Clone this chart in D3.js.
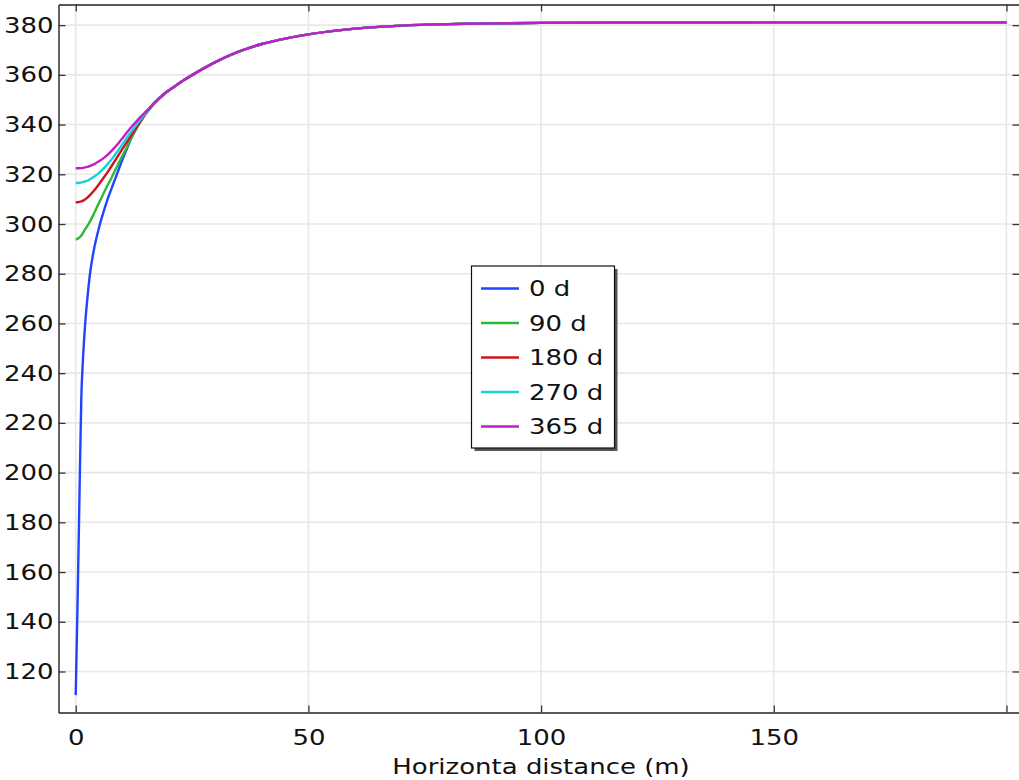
<!DOCTYPE html>
<html lang="en">
<head>
    <meta charset="UTF-8">
    <title>Horizontal distance profile</title>
    <script src="https://d3js.org/d3.v7.min.js"></script>
    <style>
        body {
            margin: 0;
            background: #fff;
        }
        svg text {
            font-family: "DejaVu Sans", sans-serif;
            font-size: 22px;
            fill: #111;
        }
    </style>
</head>
<body>
    <div id="chart"></div>

    <script>
        // distance along the profile (m)
        const distance = [0, 0.4, 0.8, 1.2, 1.6, 2, 2.5, 3, 4, 5, 6, 7, 8, 9, 10, 11, 12, 13, 14,
            15, 16, 17, 19, 21, 23, 25, 27.5, 30, 35, 40, 45, 50, 55, 60, 70, 80, 90, 100, 120, 150, 200];

        // shared tail once all curves have merged (x >= 21)
        const tail = [355, 357.6, 359.9, 362.6, 365.1, 369.3, 372.4, 374.6, 376.3, 377.6, 378.6,
            379.8, 380.4, 380.7, 380.9, 381.05, 381.1, 381.1];

        const day0 = [110.5, 148, 190, 230, 247, 259, 270, 279, 290.5, 298.5, 305, 310.8, 315.8,
            320.8, 325.7, 330.3, 334.8, 338.4, 341.5, 344.2, 346.6, 348.7, 352.2].concat(tail);
        const day90 = [293.8, 294, 294.6, 295.4, 296.5, 297.8, 299.2, 300.8, 304.5, 308.5, 312.4,
            316.1, 319.8, 323.6, 327.3, 330.9, 334.8, 338.4, 341.5, 344.2, 346.6, 348.7, 352.2].concat(tail);
        const day180 = [308.7, 308.75, 308.9, 309.1, 309.4, 309.9, 310.6, 311.5, 313.6, 316, 318.6,
            321.3, 324.2, 327.1, 330.1, 333, 335.9, 338.7, 341.6, 344.4, 346.8, 348.9, 352.3].concat(tail);
        const day270 = [316.5, 316.5, 316.6, 316.7, 316.9, 317.1, 317.4, 317.9, 319.1, 320.6, 322.4,
            324.4, 326.7, 329.3, 332, 334.7, 337.3, 339.8, 342.2, 344.6, 346.9, 349, 352.4].concat(tail);
        const day365 = [322.4, 322.4, 322.45, 322.5, 322.6, 322.75, 323, 323.3, 324.1, 325.2, 326.5,
            328.1, 330, 332.1, 334.4, 336.8, 339.1, 341.2, 343.2, 345.1, 347, 348.9, 352.4].concat(tail);

        const seriesNames = ["0 d", "90 d", "180 d", "270 d", "365 d"];
        const seriesValues = [day0, day90, day180, day270, day365];
        const seriesColors = ["#2144ff", "#2cb83a", "#d0141a", "#17d0d8", "#c01ec8"];

        const xTicks = [0, 50, 100, 150, 200];
        const xLabelled = [0, 50, 100, 150];
        const yTicks = [120, 140, 160, 180, 200, 220, 240, 260, 280, 300, 320, 340, 360, 380];

        const width = 1019, height = 780;
        const plotLeft = 58.5, plotRight = 1019.5, plotTop = 4.5, plotBottom = 712.5;

        const svg = d3.select("#chart").append("svg")
            .attr("width", width)
            .attr("height", height);

        const x = d3.scaleLinear().domain([-3.7, 202.8]).range([plotLeft, plotRight]);
        const y = d3.scaleLinear().domain([103.5, 388.3]).range([plotBottom, plotTop]);

        // grid
        const grid = svg.append("g").attr("stroke", "#e8e8e8").attr("stroke-width", 1.6);
        grid.selectAll(".gx").data(xTicks).enter().append("line")
            .attr("x1", d => x(d)).attr("x2", d => x(d))
            .attr("y1", plotTop).attr("y2", plotBottom);
        grid.selectAll(".gy").data(yTicks).enter().append("line")
            .attr("x1", plotLeft).attr("x2", plotRight)
            .attr("y1", d => y(d)).attr("y2", d => y(d));

        // curves
        const line = d3.line()
            .x((d, i) => x(distance[i]))
            .y(d => y(d))
            .curve(d3.curveMonotoneX);

        svg.append("g").selectAll("path")
            .data(seriesValues)
            .enter().append("path")
            .attr("d", d => line(d))
            .attr("fill", "none")
            .attr("stroke", (d, i) => seriesColors[i])
            .attr("stroke-width", 2.4)
            .attr("stroke-linejoin", "round");

        // axes, ticks pointing inward
        function styleAxis(g) {
            g.select(".domain").attr("stroke", "#222").attr("stroke-width", 1.4);
            g.selectAll(".tick line").attr("stroke", "#333").attr("stroke-width", 1.3);
            g.selectAll(".tick text").attr("fill", "#111").style("font-size", "22px")
                .style("font-family", '"DejaVu Sans", sans-serif');
        }

        svg.append("g")
            .attr("transform", `translate(0,${plotBottom})`)
            .call(d3.axisBottom(x).tickValues(xTicks).tickSizeInner(-7).tickSizeOuter(0).tickPadding(17)
                .tickFormat(d => xLabelled.includes(d) ? d : ""))
            .call(styleAxis);

        svg.append("g")
            .attr("transform", `translate(0,${plotTop})`)
            .call(d3.axisTop(x).tickValues(xTicks).tickSizeInner(-7).tickSizeOuter(0).tickFormat(""))
            .call(styleAxis);

        svg.append("g")
            .attr("transform", `translate(${plotLeft},0)`)
            .call(d3.axisLeft(y).tickValues(yTicks).tickSizeInner(-7).tickSizeOuter(0).tickPadding(5))
            .call(styleAxis);

        svg.append("g")
            .attr("transform", `translate(${plotRight},0)`)
            .call(d3.axisRight(y).tickValues(yTicks).tickSizeInner(-7).tickSizeOuter(0).tickFormat(""))
            .call(styleAxis);

        svg.append("text")
            .attr("class", "xlabel")
            .attr("x", 541)
            .attr("y", 774)
            .attr("text-anchor", "middle")
            .text("Horizonta distance (m)");

        // legend
        const lg = svg.append("g").attr("transform", "translate(471.5,266)");
        const lgW = 143, lgH = 182;
        lg.append("rect").attr("x", 3).attr("y", 3).attr("width", lgW).attr("height", lgH)
            .attr("fill", "#555");
        lg.append("rect").attr("width", lgW).attr("height", lgH)
            .attr("fill", "#fff").attr("stroke", "#111").attr("stroke-width", 1.2);

        const item = lg.selectAll(".item").data(seriesNames).enter().append("g")
            .attr("transform", (d, i) => `translate(0,${22.5 + i * 34.5})`);
        item.append("line")
            .attr("x1", 9.5).attr("x2", 47.5)
            .attr("stroke", (d, i) => seriesColors[i])
            .attr("stroke-width", 2.4);
        item.append("text")
            .attr("x", 57.5)
            .attr("dy", "0.36em")
            .text(d => d);

        // the reference text is drawn slightly wider than DejaVu Sans
        svg.selectAll("text").each(function () {
            const len = this.getComputedTextLength();
            if (len > 0) {
                d3.select(this)
                    .attr("textLength", len * 1.18)
                    .attr("lengthAdjust", "spacingAndGlyphs");
            }
        });
    </script>
</body>
</html>
